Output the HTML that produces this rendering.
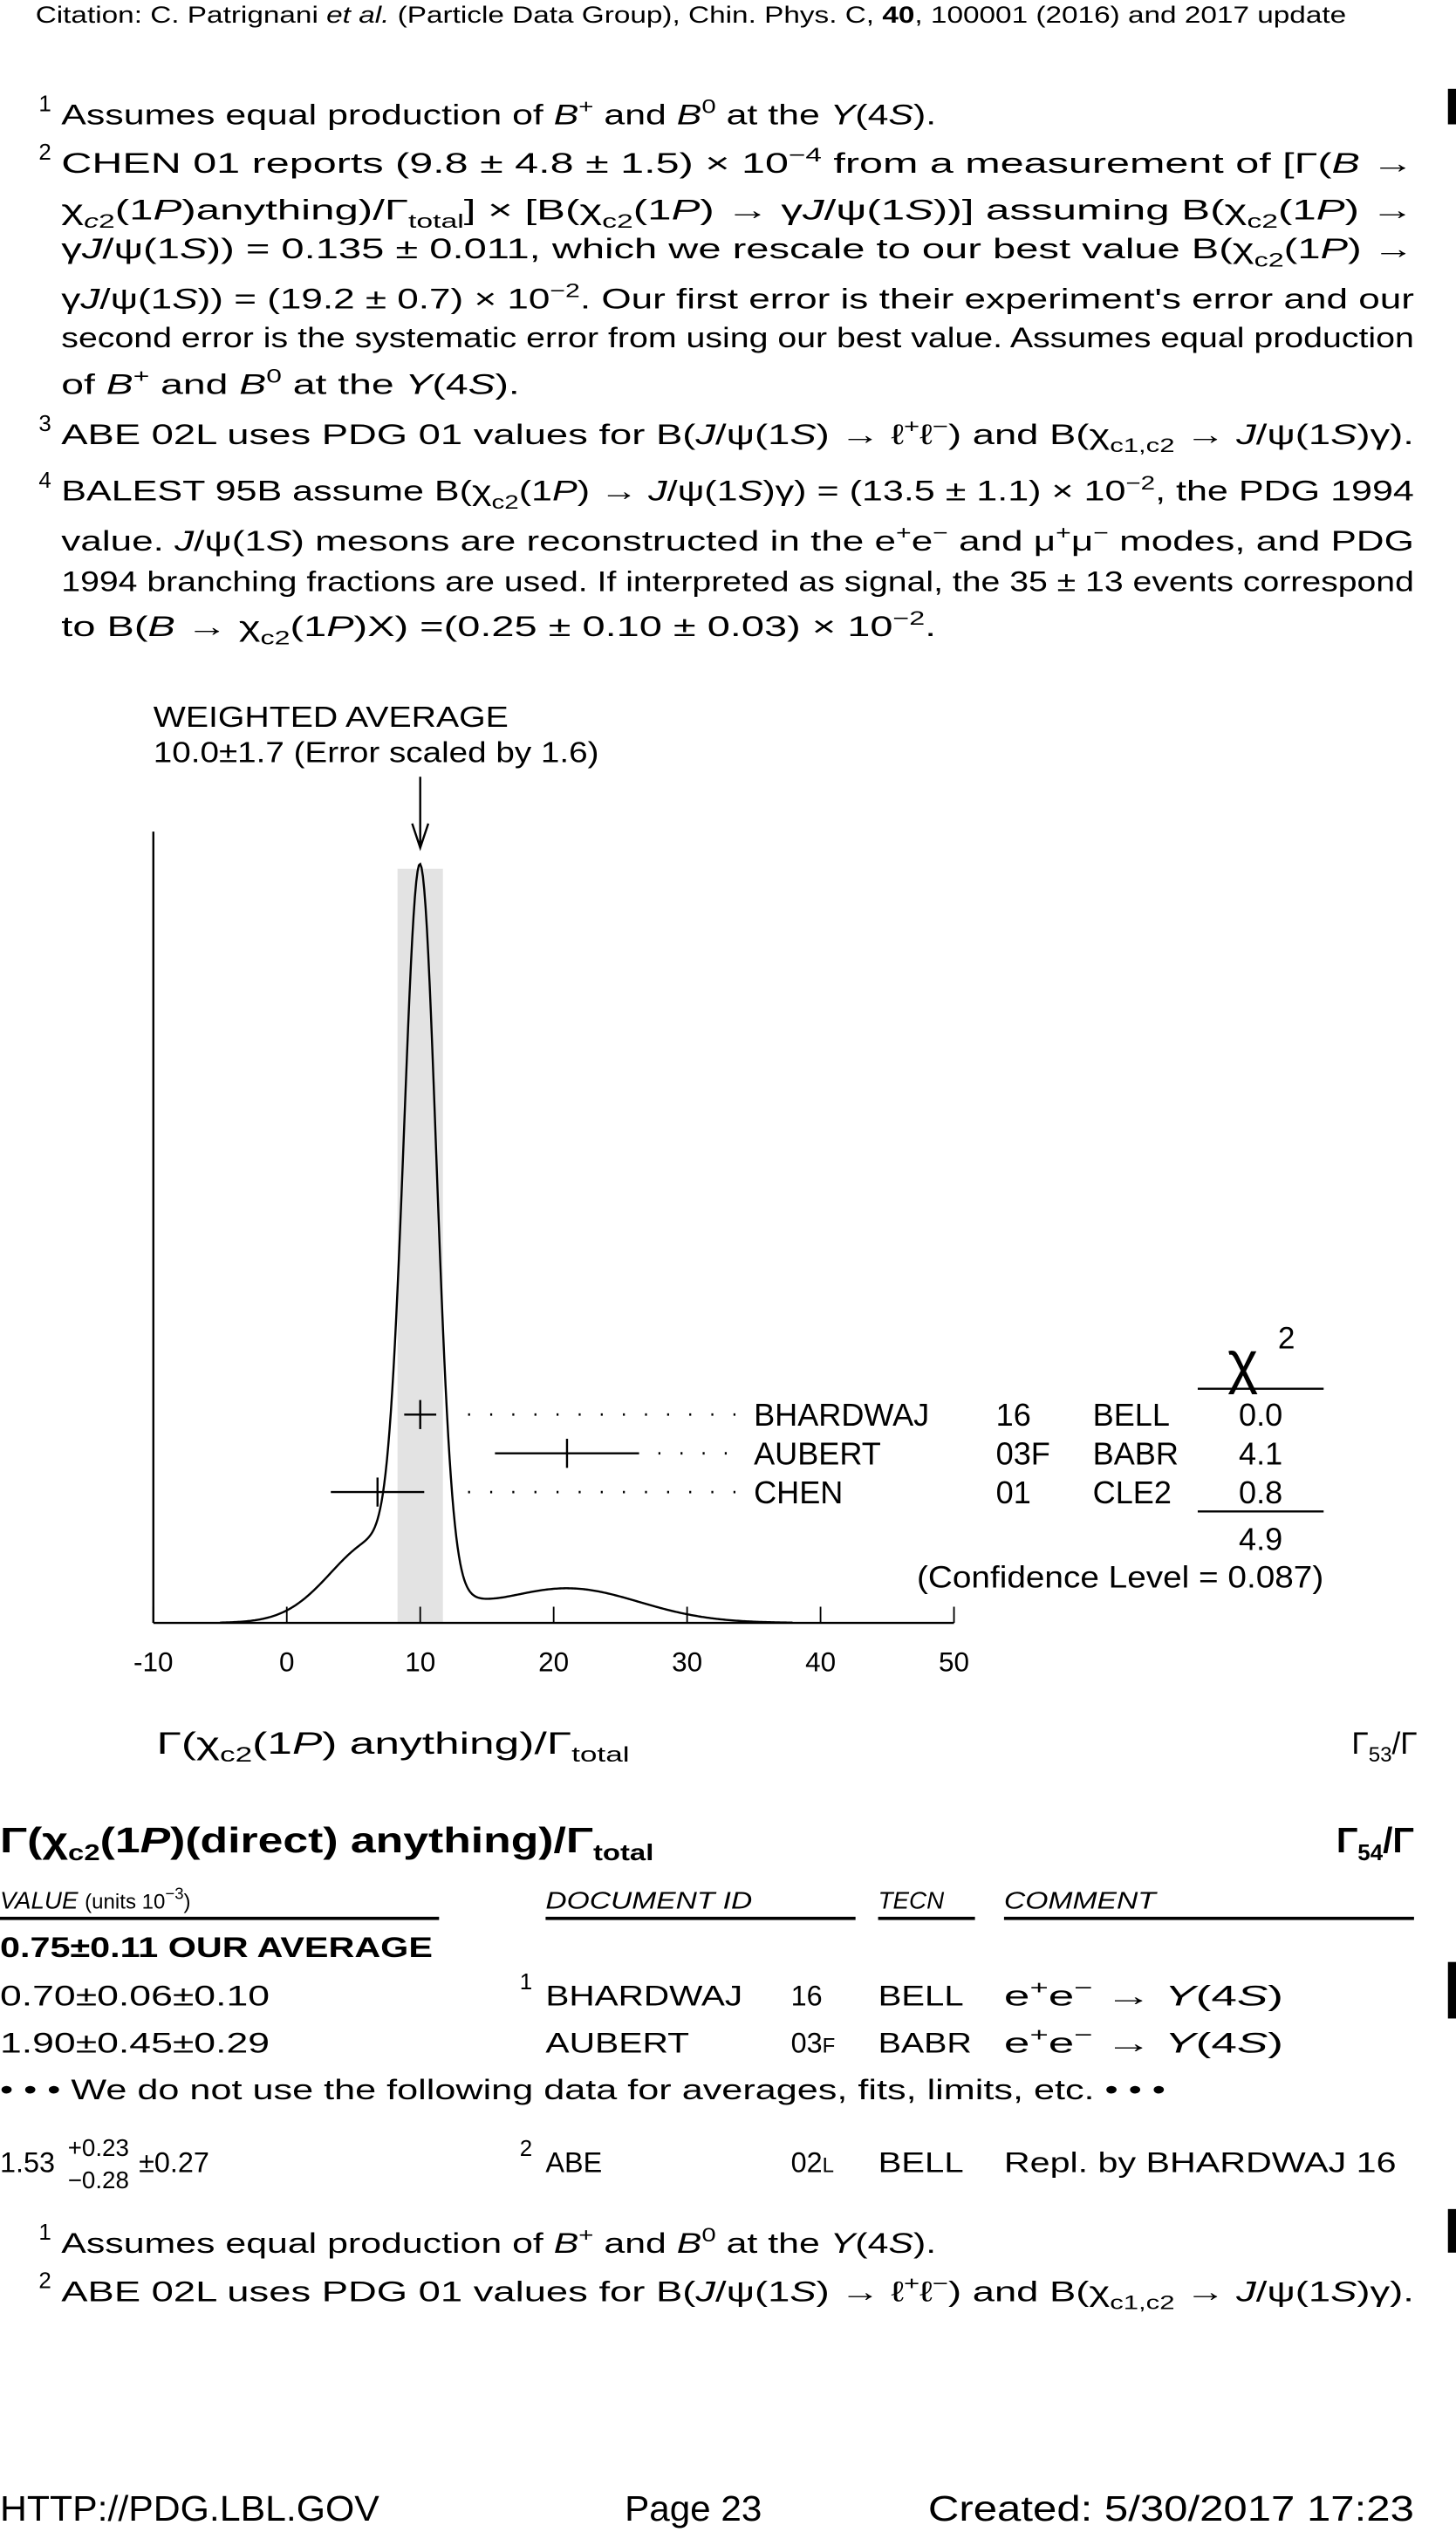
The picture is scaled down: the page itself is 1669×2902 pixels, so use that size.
<!DOCTYPE html>
<html><head><meta charset="utf-8"><style>
html,body{margin:0;padding:0;background:#fff;}
svg{display:block;}
text{font-family:"Liberation Sans",sans-serif;fill:#000;}
.t{font-size:17.5px;}
.s{font-size:14px;}
.i{font-style:italic;}
</style></head><body>
<svg id="page" width="1669" height="2902" viewBox="0 0 902 1568" preserveAspectRatio="none" xmlns="http://www.w3.org/2000/svg">
<text x="22" y="14" style="font-size:14.5px" textLength="812" lengthAdjust="spacingAndGlyphs">Citation: C. Patrignani <tspan font-style="italic">et al.</tspan> (Particle Data Group), Chin. Phys. C, <tspan font-weight="bold">40</tspan>, 100001 (2016) and 2017 update</text>

<rect x="897" y="55" width="5" height="22"/>
<g class="t">
<text x="24" y="69" class="s">1</text>
<text x="38" y="77" textLength="542" lengthAdjust="spacingAndGlyphs">Assumes equal production of <tspan class="i">B</tspan><tspan dy="-7" font-size="12">+</tspan><tspan dy="7"> and </tspan><tspan class="i">B</tspan><tspan dy="-7" font-size="12">0</tspan><tspan dy="7"> at the </tspan><tspan class="i">Υ</tspan>(4<tspan class="i">S</tspan>).</text>
<text x="24" y="99" class="s">2</text>
<text x="38" y="107" textLength="838" lengthAdjust="spacingAndGlyphs">CHEN 01 reports (9.8 ± 4.8 ± 1.5) × 10<tspan dy="-7" font-size="12">−4</tspan><tspan dy="7"> from a measurement of [Γ(</tspan><tspan class="i">B</tspan> →</text>
<text x="38" y="136" textLength="838" lengthAdjust="spacingAndGlyphs">χ<tspan dy="5" font-size="12" class="i">c</tspan><tspan font-size="12">2</tspan><tspan dy="-5">(1</tspan><tspan class="i">P</tspan>)anything)/Γ<tspan dy="5" font-size="12">total</tspan><tspan dy="-5">] × [B(χ</tspan><tspan dy="5" font-size="12">c2</tspan><tspan dy="-5">(1</tspan><tspan class="i">P</tspan>) → γ<tspan class="i">J</tspan>/ψ(1<tspan class="i">S</tspan>))] assuming B(χ<tspan dy="5" font-size="12">c2</tspan><tspan dy="-5">(1</tspan><tspan class="i">P</tspan>) →</text>
<text x="38" y="160" textLength="838" lengthAdjust="spacingAndGlyphs">γ<tspan class="i">J</tspan>/ψ(1<tspan class="i">S</tspan>)) = 0.135 ± 0.011, which we rescale to our best value B(χ<tspan dy="5" font-size="12">c2</tspan><tspan dy="-5">(1</tspan><tspan class="i">P</tspan>) →</text>
<text x="38" y="191" textLength="838" lengthAdjust="spacingAndGlyphs">γ<tspan class="i">J</tspan>/ψ(1<tspan class="i">S</tspan>)) = (19.2 ± 0.7) × 10<tspan dy="-7" font-size="12">−2</tspan><tspan dy="7">. Our first error is their experiment's error and our</tspan></text>
<text x="38" y="215" textLength="838" lengthAdjust="spacingAndGlyphs">second error is the systematic error from using our best value. Assumes equal production</text>
<text x="38" y="244" textLength="284" lengthAdjust="spacingAndGlyphs">of <tspan class="i">B</tspan><tspan dy="-7" font-size="12">+</tspan><tspan dy="7"> and </tspan><tspan class="i">B</tspan><tspan dy="-7" font-size="12">0</tspan><tspan dy="7"> at the </tspan><tspan class="i">Υ</tspan>(4<tspan class="i">S</tspan>).</text>
<text x="24" y="267" class="s">3</text>
<text x="38" y="275" textLength="838" lengthAdjust="spacingAndGlyphs">ABE 02L uses PDG 01 values for B(<tspan class="i">J</tspan>/ψ(1<tspan class="i">S</tspan>) → ℓ<tspan dy="-7" font-size="12">+</tspan><tspan dy="7">ℓ</tspan><tspan dy="-7" font-size="12">−</tspan><tspan dy="7">) and B(χ</tspan><tspan dy="5" font-size="12">c1,c2</tspan><tspan dy="-5"> → </tspan><tspan class="i">J</tspan>/ψ(1<tspan class="i">S</tspan>)γ).</text>
<text x="24" y="302" class="s">4</text>
<text x="38" y="310" textLength="838" lengthAdjust="spacingAndGlyphs">BALEST 95B assume B(χ<tspan dy="5" font-size="12">c2</tspan><tspan dy="-5">(1</tspan><tspan class="i">P</tspan>) → <tspan class="i">J</tspan>/ψ(1<tspan class="i">S</tspan>)γ) = (13.5 ± 1.1) × 10<tspan dy="-7" font-size="12">−2</tspan><tspan dy="7">, the PDG 1994</tspan></text>
<text x="38" y="341" textLength="838" lengthAdjust="spacingAndGlyphs">value. <tspan class="i">J</tspan>/ψ(1<tspan class="i">S</tspan>) mesons are reconstructed in the e<tspan dy="-7" font-size="12">+</tspan><tspan dy="7">e</tspan><tspan dy="-7" font-size="12">−</tspan><tspan dy="7"> and μ</tspan><tspan dy="-7" font-size="12">+</tspan><tspan dy="7">μ</tspan><tspan dy="-7" font-size="12">−</tspan><tspan dy="7"> modes, and PDG</tspan></text>
<text x="38" y="366" textLength="838" lengthAdjust="spacingAndGlyphs">1994 branching fractions are used. If interpreted as signal, the 35 ± 13 events correspond</text>
<text x="38" y="394" textLength="542" lengthAdjust="spacingAndGlyphs">to B(<tspan class="i">B</tspan> → χ<tspan dy="5" font-size="12">c2</tspan><tspan dy="-5">(1</tspan><tspan class="i">P</tspan>)X) =(0.25 ± 0.10 ± 0.03) × 10<tspan dy="-7" font-size="12">−2</tspan><tspan dy="7">.</tspan></text>
</g>

<g id="chart"></g>

<g>
<text x="97" y="1086" style="font-size:19px" textLength="293" lengthAdjust="spacingAndGlyphs">Γ(χ<tspan dy="5" font-size="13">c2</tspan><tspan dy="-5">(1</tspan><tspan class="i">P</tspan>) anything)/Γ<tspan dy="5" font-size="13">total</tspan></text>
<text x="878" y="1086" style="font-size:19px" text-anchor="end">Γ<tspan dy="5" font-size="13">53</tspan><tspan dy="-5">/Γ</tspan></text>
</g>

<g font-weight="bold">
<text x="0" y="1147" style="font-size:22px" textLength="405" lengthAdjust="spacingAndGlyphs">Γ(χ<tspan dy="5" font-size="14">c2</tspan><tspan dy="-5">(1</tspan><tspan class="i">P</tspan>)(direct) anything)/Γ<tspan dy="5" font-size="14">total</tspan></text>
<text x="876" y="1147" style="font-size:22px" text-anchor="end">Γ<tspan dy="5" font-size="14">54</tspan><tspan dy="-5">/Γ</tspan></text>
</g>

<g class="t">
<text x="0" y="1182" style="font-size:15px" font-style="italic">VALUE <tspan font-style="normal" font-size="13">(units 10</tspan><tspan font-style="normal" font-size="10" dy="-6">−3</tspan><tspan font-style="normal" font-size="13" dy="6">)</tspan></text>
<text x="338" y="1182" style="font-size:15px" font-style="italic" textLength="128" lengthAdjust="spacingAndGlyphs">DOCUMENT ID</text>
<text x="544" y="1182" style="font-size:15px" font-style="italic">TECN</text>
<text x="622" y="1182" style="font-size:15px" font-style="italic" textLength="94" lengthAdjust="spacingAndGlyphs">COMMENT</text>
<rect x="0" y="1187" width="272" height="2"/><rect x="338" y="1187" width="192" height="2"/><rect x="544" y="1187" width="60" height="2"/><rect x="622" y="1187" width="254" height="2"/>
<text x="0" y="1212" font-weight="bold" textLength="268" lengthAdjust="spacingAndGlyphs">0.75±0.11 OUR AVERAGE</text>
<text x="0" y="1242" textLength="167" lengthAdjust="spacingAndGlyphs">0.70±0.06±0.10</text>
<text x="322" y="1232" class="s">1</text>
<text x="338" y="1242" textLength="122" lengthAdjust="spacingAndGlyphs">BHARDWAJ</text><text x="490" y="1242">16</text><text x="544" y="1242" textLength="53" lengthAdjust="spacingAndGlyphs">BELL</text>
<text x="622" y="1242" textLength="173" lengthAdjust="spacingAndGlyphs">e<tspan dy="-7" font-size="12">+</tspan><tspan dy="7">e</tspan><tspan dy="-7" font-size="12">−</tspan><tspan dy="7"> → </tspan><tspan class="i">Υ</tspan>(4<tspan class="i">S</tspan>)</text>
<rect x="897" y="1215" width="5" height="35"/>
<text x="0" y="1271" textLength="167" lengthAdjust="spacingAndGlyphs">1.90±0.45±0.29</text>
<text x="338" y="1271" textLength="89" lengthAdjust="spacingAndGlyphs">AUBERT</text><text x="490" y="1271">03<tspan font-size="13">F</tspan></text><text x="544" y="1271" textLength="58" lengthAdjust="spacingAndGlyphs">BABR</text>
<text x="622" y="1271" textLength="173" lengthAdjust="spacingAndGlyphs">e<tspan dy="-7" font-size="12">+</tspan><tspan dy="7">e</tspan><tspan dy="-7" font-size="12">−</tspan><tspan dy="7"> → </tspan><tspan class="i">Υ</tspan>(4<tspan class="i">S</tspan>)</text>
<text x="0" y="1300" textLength="722" lengthAdjust="spacingAndGlyphs">• • • We do not use the following data for averages, fits, limits, etc. • • •</text>
<text x="0" y="1345">1.53</text>
<text x="42" y="1335" style="font-size:15px">+0.23</text><text x="42" y="1355" style="font-size:15px">−0.28</text>
<text x="86" y="1345">±0.27</text>
<text x="322" y="1335" class="s">2</text>
<text x="338" y="1345">ABE</text><text x="490" y="1345">02<tspan font-size="13">L</tspan></text><text x="544" y="1345" textLength="53" lengthAdjust="spacingAndGlyphs">BELL</text>
<text x="622" y="1345" textLength="243" lengthAdjust="spacingAndGlyphs">Repl. by BHARDWAJ 16</text>
<rect x="897" y="1368" width="5" height="27"/>
<text x="24" y="1387" class="s">1</text>
<text x="38" y="1395" textLength="542" lengthAdjust="spacingAndGlyphs">Assumes equal production of <tspan class="i">B</tspan><tspan dy="-7" font-size="12">+</tspan><tspan dy="7"> and </tspan><tspan class="i">B</tspan><tspan dy="-7" font-size="12">0</tspan><tspan dy="7"> at the </tspan><tspan class="i">Υ</tspan>(4<tspan class="i">S</tspan>).</text>
<text x="24" y="1417" class="s">2</text>
<text x="38" y="1425" textLength="838" lengthAdjust="spacingAndGlyphs">ABE 02L uses PDG 01 values for B(<tspan class="i">J</tspan>/ψ(1<tspan class="i">S</tspan>) → ℓ<tspan dy="-7" font-size="12">+</tspan><tspan dy="7">ℓ</tspan><tspan dy="-7" font-size="12">−</tspan><tspan dy="7">) and B(χ</tspan><tspan dy="5" font-size="12">c1,c2</tspan><tspan dy="-5"> → </tspan><tspan class="i">J</tspan>/ψ(1<tspan class="i">S</tspan>)γ).</text>
</g>

<g style="font-size:22px">
<text x="0" y="1561" textLength="235" lengthAdjust="spacingAndGlyphs">HTTP://PDG.LBL.GOV</text>
<text x="387" y="1561" textLength="85" lengthAdjust="spacingAndGlyphs">Page 23</text>
<text x="575" y="1561" textLength="301" lengthAdjust="spacingAndGlyphs">Created: 5/30/2017 17:23</text>
</g>
</svg>
<script>
const names = ["BHARDWAJ", "AUBERT", "CHEN"];
const years = ["16", "03F", "01"];
const tecns = ["BELL", "BABR", "CLE2"];
const values = [10.0, 21.0, 6.8];
const errors = [1.2, 5.4, 3.5];
const chi2 = ["0.0", "4.1", "0.8"];
const avgValue = 10.0;
const avgError = 1.7;
const xTicks = [-10, 0, 10, 20, 30, 40, 50];

const NS = "http://www.w3.org/2000/svg";
const g = document.getElementById("chart");
const X0 = 95, X1 = 591, XMIN = -10, XMAX = 50, YB = 1005, YTOP = 515;
function sx(v){ return X0 + (v - XMIN) / (XMAX - XMIN) * (X1 - X0); }
function mk(tag, attrs, parent){ const e = document.createElementNS(NS, tag); for (const k in attrs) e.setAttribute(k, attrs[k]); (parent||g).appendChild(e); return e; }

let band = mk("rect", {x: sx(avgValue-avgError), y: 538, width: sx(avgValue+avgError)-sx(avgValue-avgError), height: YB-538, fill: "#e3e3e3"});



let yax = mk("line", {x1: X0, y1: YTOP, x2: X0, y2: YB, stroke: "#000", "stroke-width": 1.3});


let xax = mk("line", {x1: X0, y1: YB, x2: X1, y2: YB, stroke: "#000", "stroke-width": 1.3});


xTicks.forEach(t => {
  const tk = mk("line", {x1: sx(t), y1: YB, x2: sx(t), y2: YB-10, stroke: "#000", "stroke-width": 1});
  
  
  const lb = mk("text", {x: sx(t), y: 1035, "font-size": 17, "text-anchor": "middle"});
  lb.textContent = String(t);
  
  
});

function ideo(x){ let s = 0; for (let i=0;i<values.length;i++){ const d=(x-values[i])/errors[i]; s += Math.exp(-0.5*d*d)/(errors[i]*errors[i]); } return s; }
let mx = 0; for (let x=-5;x<=38;x+=0.02) mx = Math.max(mx, ideo(x));
let pts = [];
for (let x=-5;x<=38;x+=0.1) pts.push(sx(x).toFixed(2)+","+(YB - ideo(x)/mx*(YB-535)).toFixed(2));
let curve = mk("polyline", {points: pts.join(" "), fill: "none", stroke: "#000", "stroke-width": 1.3});



let arr = mk("line", {x1: sx(avgValue), y1: 481, x2: sx(avgValue), y2: 524, stroke: "#000", "stroke-width": 1.3});


let ah = mk("polyline", {points: (sx(avgValue)-5)+",510 "+sx(avgValue)+",525 "+(sx(avgValue)+5)+",510", fill: "none", stroke: "#000", "stroke-width": 1.3});


let t1 = mk("text", {x: 95, y: 450, "font-size": 18, textLength: 220, lengthAdjust: "spacingAndGlyphs"}); t1.textContent = "WEIGHTED AVERAGE";


let t2 = mk("text", {x: 95, y: 472, "font-size": 18, textLength: 276, lengthAdjust: "spacingAndGlyphs"}); t2.textContent = "10.0\u00b11.7 (Error scaled by 1.6)";



const rowY = [876, 900, 924];
for (let i=0;i<values.length;i++){
  const y = rowY[i];
  const lo = sx(values[i]-errors[i]), hi = sx(values[i]+errors[i]);
  const bar = mk("line", {x1: lo, y1: y, x2: hi, y2: y, stroke: "#000", "stroke-width": 1.3});
  
  
  const c = mk("line", {x1: sx(values[i]), y1: y-9, x2: sx(values[i]), y2: y+9, stroke: "#000", "stroke-width": 1.3});
  
  
  const dStart = Math.max(hi + 12, 290);
  const dots = mk("line", {x1: dStart, y1: y, x2: 458, y2: y, stroke: "#000", "stroke-width": 1.5, "stroke-dasharray": "1.2 12.5"});
  
  
  const cols = [[467, names[i], 'start'], [617, years[i], 'start'], [677, tecns[i], 'start'], [781, chi2[i], 'middle']];
  cols.forEach(cc => {
    const tx = mk("text", {x: cc[0], y: y+7, "font-size": 19.5, "text-anchor": cc[2]});
    tx.textContent = cc[1];
    
    
  });
}
let chi = mk("text", {x: 770, y: 856, "font-size": 36, "text-anchor": "middle"}); chi.textContent = "χ";


let chs = mk("text", {x: 797, y: 835, "font-size": 19, "text-anchor": "middle"}); chs.textContent = "2";


[860, 936].forEach(yy => { const l = mk("line", {x1: 742, y1: yy, x2: 820, y2: yy, stroke: "#000", "stroke-width": 1.3});
  
   });
let tot = mk("text", {x: 781, y: 960, "font-size": 19.5, "text-anchor": "middle"});
tot.textContent = chi2.reduce((a,b)=>a+parseFloat(b),0).toFixed(1);


let cl = mk("text", {x: 820, y: 983, "font-size": 19, "text-anchor": "end", textLength: 252, lengthAdjust: "spacingAndGlyphs"}); cl.textContent = "(Confidence Level = 0.087)";


</script>
</body></html>
